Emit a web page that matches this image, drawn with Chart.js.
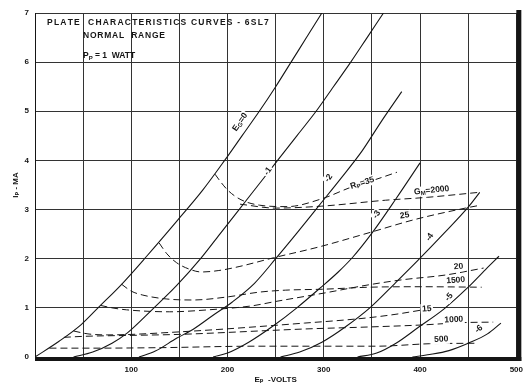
<!DOCTYPE html>
<html>
<head>
<meta charset="utf-8">
<script src="https://cdn.jsdelivr.net/npm/chart.js@4.4.1/dist/chart.umd.min.js"></script>
<style>
  html, body { margin: 0; padding: 0; background: #fff; }
  #wrap { width: 531px; height: 387px; }
</style>
</head>
<body>
<div id="wrap"><canvas id="curvas"></canvas></div>
<script>
// plate characteristics, pairs of [plate volts, plate mA], one per grid bias
const eg0 = [[0, 0], [25, 0.32], [48, 0.66], [67, 1.03], [90, 1.48], [116, 2.05], [148, 2.78], [174, 3.39], [197, 4.0], [215, 4.5], [233, 5.0], [250, 5.5], [266, 6.0], [282, 6.5], [298, 7.0]];
const eg1 = [[40, 0], [60, 0.1], [80, 0.28], [96, 0.49], [122, 0.97], [147, 1.45], [172, 2.0], [192, 2.5], [212, 3.0], [232, 3.5], [252, 4.0], [272, 4.5], [292, 5.0], [310, 5.5], [328, 6.0], [345, 6.5], [362, 7.0]];
const eg2 = [[108, 0], [125, 0.12], [147, 0.38], [164, 0.56], [185, 0.85], [205, 1.12], [228, 1.5], [250, 2.0], [272, 2.52], [295, 3.08], [318, 3.64], [340, 4.2], [360, 4.8], [381, 5.4]];
const eg3 = [[185, 0], [200, 0.08], [222, 0.3], [248, 0.64], [272, 1.0], [296, 1.4], [315, 1.73], [330, 2.03], [350, 2.52], [375, 3.22], [400, 3.95]];
const eg4 = [[255, 0], [275, 0.1], [298, 0.3], [323, 0.62], [349, 1.02], [374, 1.5], [398, 1.97], [425, 2.52], [450, 3.05], [462, 3.35]];
const eg5 = [[335, 0], [355, 0.08], [375, 0.28], [398, 0.6], [425, 0.98], [450, 1.42], [468, 1.78], [482, 2.05]];
const eg6 = [[392, 0], [410, 0.05], [430, 0.13], [450, 0.28], [470, 0.47], [484, 0.69]];

// plate resistance lines (kilohms)
const rp35 = [[187, 3.72], [193, 3.56], [201, 3.38], [214, 3.2], [233, 3.09], [262, 3.06], [298, 3.22], [329, 3.46], [352, 3.6], [376, 3.76]];
const rp25 = [[129, 2.32], [137, 2.1], [147, 1.92], [160, 1.79], [173, 1.73], [191, 1.76], [212, 1.84], [248, 2.02], [295, 2.24], [349, 2.54], [395, 2.8], [447, 3.03], [463, 3.09]];
const rp20 = [[68, 1.05], [80, 1.0], [95, 0.96], [140, 0.92], [180, 0.96], [225, 1.04], [250, 1.13], [300, 1.3], [347, 1.47], [381, 1.57], [427, 1.67], [466, 1.81]];
const rp15 = [[40, 0.53], [55, 0.47], [75, 0.45], [100, 0.46], [140, 0.5], [190, 0.56], [233, 0.62], [280, 0.69], [320, 0.75], [347, 0.8], [375, 0.87], [400, 0.95]];

// transconductance lines (micromhos)
const gm2000 = [[213, 3.11], [250, 3.03], [298, 3.07], [364, 3.19], [408, 3.25], [461, 3.35]];
const gm1500 = [[90, 1.48], [100, 1.34], [112, 1.26], [137, 1.18], [164, 1.16], [199, 1.22], [233, 1.32], [260, 1.36], [300, 1.38], [347, 1.42], [400, 1.43], [464, 1.42]];
const gm1000 = [[30, 0.4], [50, 0.42], [100, 0.44], [150, 0.46], [200, 0.5], [233, 0.53], [280, 0.57], [345, 0.61], [400, 0.65], [445, 0.7], [476, 0.71]];
const gm500 = [[15, 0.18], [60, 0.18], [130, 0.19], [230, 0.22], [300, 0.22], [355, 0.22], [410, 0.27], [458, 0.28]];

// names written along the curves: [parts, volts, mA, angle]
// a part is [text, subscript?]
const notes = [
  [[['E', 0], ['G', 1], ['=0', 0]], 213, 4.78, -55],
  [[['-1', 0]], 242, 3.78, -55],
  [[['-2', 0]], 305, 3.64, -55],
  [[['-3', 0]], 355, 2.9, -55],
  [[['-4', 0]], 410, 2.44, -55],
  [[['-5', 0]], 430, 1.22, -50],
  [[['-6', 0]], 461, 0.57, -40],
  [[['R', 0], ['P', 1], ['=35', 0]], 340, 3.54, -18],
  [[['G', 0], ['M', 1], ['=2000', 0]], 412, 3.39, -6],
  [[['25', 0]], 384, 2.88, -8],
  [[['20', 0]], 440, 1.84, -5],
  [[['1500', 0]], 437, 1.56, -4],
  [[['15', 0]], 407, 0.98, -4],
  [[['1000', 0]], 435, 0.76, -3],
  [[['500', 0]], 422, 0.36, -3]
];

const ink = '#151515';
const face = '"Liberation Sans", "DejaVu Sans", sans-serif';

function toPoints(arr) {
  return arr.map(p => ({ x: p[0], y: p[1] }));
}

function solid(arr) {
  return {
    data: toPoints(arr),
    showLine: true,
    borderColor: ink,
    borderWidth: 1.1,
    pointRadius: 0,
    cubicInterpolationMode: 'monotone',
    fill: false
  };
}

function dashed(arr) {
  const ds = solid(arr);
  ds.borderWidth = 1;
  ds.borderDash = [7, 4];
  return ds;
}

// text with small lowered letters
function richWidth(ctx, parts, size) {
  let w = 0;
  parts.forEach(p => {
    ctx.font = 'bold ' + (p[1] ? size - 2.5 : size) + 'px ' + face;
    w += ctx.measureText(p[0]).width;
  });
  return w;
}

function drawRich(ctx, parts, x, y, size) {
  parts.forEach(p => {
    ctx.font = 'bold ' + (p[1] ? size - 2.5 : size) + 'px ' + face;
    ctx.fillText(p[0], x, p[1] ? y + 2 : y);
    x += ctx.measureText(p[0]).width;
  });
}

// spread a line of capitals over a given width
function spaced(ctx, text, x, y, width) {
  const chars = text.split('');
  const natural = ctx.measureText(text).width;
  const gap = (width - natural) / (chars.length - 1);
  chars.forEach(c => {
    ctx.fillText(c, x, y);
    x += ctx.measureText(c).width + gap;
  });
}

const annotate = {
  id: 'annotate',
  afterDatasetsDraw(chart) {
    const { ctx, chartArea: a, scales: { x, y } } = chart;
    ctx.save();

    // heavy frame on the right and along the bottom
    ctx.fillStyle = ink;
    ctx.fillRect(a.right, a.top - 3, 5, a.bottom - a.top + 7);
    ctx.fillRect(a.left, a.bottom, a.right - a.left + 5, 4);

    // heading in the upper left cells
    ctx.textBaseline = 'alphabetic';
    ctx.textAlign = 'left';
    ctx.font = 'bold 8.5px ' + face;
    spaced(ctx, 'PLATE  CHARACTERISTICS CURVES - 6SL7', a.left + 12, a.top + 12, 221);
    spaced(ctx, 'NORMAL  RANGE', a.left + 48, a.top + 25, 82);
    drawRich(ctx, [['P', 0], ['P', 1], [' = 1  WATT', 0]], a.left + 48, a.top + 45, 8.5);

    // curve names, each on a white patch
    notes.forEach(n => {
      const px = x.getPixelForValue(n[1]);
      const py = y.getPixelForValue(n[2]);
      const size = 8.5;
      const w = richWidth(ctx, n[0], size);
      ctx.save();
      ctx.translate(px, py);
      ctx.rotate(n[3] * Math.PI / 180);
      ctx.fillStyle = '#fff';
      ctx.fillRect(-w / 2 - 1.5, -5, w + 3, 10);
      ctx.fillStyle = ink;
      ctx.textBaseline = 'middle';
      drawRich(ctx, n[0], -w / 2, 0, size);
      ctx.restore();
    });
    ctx.restore();
  }
};

const ctx = document.getElementById('curvas').getContext('2d');
new Chart(ctx, {
  type: 'scatter',
  data: {
    datasets: [
      solid(eg0), solid(eg1), solid(eg2), solid(eg3), solid(eg4), solid(eg5), solid(eg6),
      dashed(rp35), dashed(rp25), dashed(rp20), dashed(rp15),
      dashed(gm2000), dashed(gm1500), dashed(gm1000), dashed(gm500)
    ]
  },
  options: {
    responsive: true,
    maintainAspectRatio: false,
    animation: false,
    devicePixelRatio: 1,
    layout: { padding: { top: 13, right: 13, left: 0, bottom: 0 } },
    plugins: {
      legend: { display: false },
      tooltip: { enabled: false }
    },
    scales: {
      x: {
        type: 'linear',
        min: 0,
        max: 500,
        afterFit: s => { s.height = 30; },
        grid: { color: '#333', lineWidth: 1, drawTicks: false },
        border: { color: ink, width: 1 },
        ticks: {
          stepSize: 50,
          autoSkip: false,
          maxRotation: 0,
          padding: 8,
          color: ink,
          font: { family: face, size: 8, weight: 'bold' },
          callback: v => (v > 0 && v % 100 === 0) ? v : ''
        },
        title: {
          display: true,
          text: 'Eₚ  -VOLTS',
          color: ink,
          font: { family: face, size: 8, weight: 'bold' },
          padding: { top: 0, bottom: 2 }
        }
      },
      y: {
        min: 0,
        max: 7,
        afterFit: s => { s.width = 35; },
        grid: { color: '#333', lineWidth: 1, drawTicks: false },
        border: { color: ink, width: 1 },
        ticks: {
          stepSize: 1,
          padding: 6,
          color: ink,
          font: { family: face, size: 8, weight: 'bold' }
        },
        title: {
          display: true,
          text: 'Iₚ - MA',
          color: ink,
          font: { family: face, size: 8, weight: 'bold' },
          padding: { top: 11, bottom: 0 }
        }
      }
    }
  },
  plugins: [annotate]
});
</script>
</body>
</html>
